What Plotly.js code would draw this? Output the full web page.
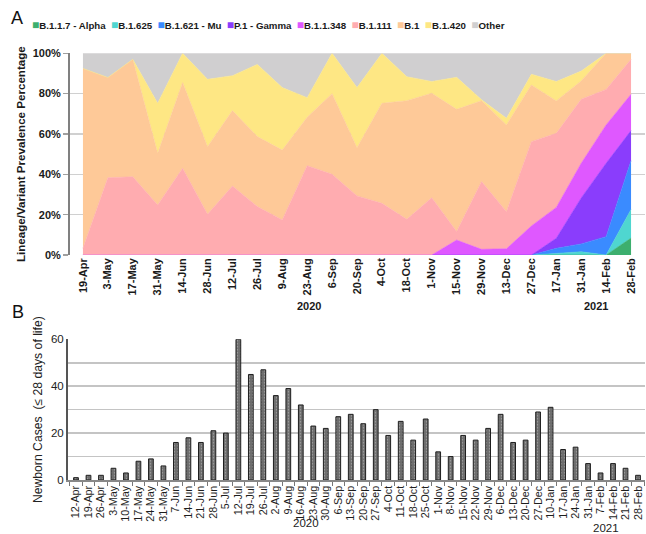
<!DOCTYPE html>
<html><head><meta charset="utf-8">
<script src="https://cdn.plot.ly/plotly-3.0.1.min.js"></script>
<style>html,body{margin:0;padding:0;background:#fff}#chart{width:646px;height:534px}</style>
</head><body><div id="chart"></div>
<script>
// ---- Panel A: lineage prevalence (% per biweekly period) ----
const periods = ['19-Apr','3-May','17-May','31-May','14-Jun','28-Jun','12-Jul','26-Jul','9-Aug','23-Aug','6-Sep','20-Sep','4-Oct','18-Oct','1-Nov','15-Nov','29-Nov','13-Dec','27-Dec','17-Jan','31-Jan','14-Feb','28-Feb'];
const alpha    = [0,0,0,0,0,0,0,0,0,0,0,0,0,0,0,0,0,0,0,0,0,0,8.4];
const b1625    = [0,0,0,0,0,0,0,0,0,0,0,0,0,0,0,0,0,0,0,0.8,1.6,0,14.2];
const mu       = [0,0,0,0,0,0,0,0,0,0,0,0,0,0,0,0,0,0,0,2.5,3.9,9.1,24.2];
const gamma    = [0,0,0,0,0,0,0,0,0,0,0,0,0,0,0,0,0,0,0,5.0,22.8,36.4,14.9];
const b11348   = [0,0,0,0,0,0,0,0,0,0,0,0,0,0,0,7.4,2.8,3.1,14.4,15.3,17.2,19.0,18.0];
const b1111    = [3.3,38.3,38.8,24.8,43.0,20.2,34.2,24.0,17.4,44.3,40.0,29.3,25.6,17.7,28.4,4.2,33.6,18.4,41.8,36.7,31.7,17.6,17.3];
const b1       = [89.2,49.7,58.2,25.6,42.5,33.5,37.4,34.7,34.6,24.0,40.0,23.9,49.6,58.8,51.8,60.6,40.1,43.0,28.1,16.1,9.1,17.9,3.0];
const b1420    = [0,0,0,24.8,14.5,33.4,17.3,35.8,31.0,9.7,20.0,29.8,24.8,11.9,5.8,15.9,0.5,3.3,5.3,9.6,4.9,0,0];
const other    = [7.5,12.0,3.0,24.8,0,12.9,11.1,5.5,17.0,22.0,0,17.0,0,11.6,14.0,11.9,23.0,32.2,10.4,14.0,8.8,0,0];
const seriesNames  = ['B.1.1.7 - Alpha','B.1.625','B.1.621 - Mu','P.1 - Gamma','B.1.1.348','B.1.111','B.1','B.1.420','Other'];
const seriesColors = ['#3daf6e','#4fd6d0','#3a8bff','#8a3dfc','#df58ff','#ffacb0','#fec998','#fee784','#d0cfd0'];
const seriesValues = [alpha,b1625,mu,gamma,b11348,b1111,b1,b1420,other];

// ---- Panel B: newborn cases per week ----
const weeks = ['12-Apr','19-Apr','26-Apr','3-May','10-May','17-May','24-May','31-May','7-Jun','14-Jun','21-Jun','28-Jun','5-Jul','12-Jul','19-Jul','26-Jul','2-Aug','9-Aug','16-Aug','23-Aug','30-Aug','6-Sep','13-Sep','20-Sep','27-Sep','4-Oct','11-Oct','18-Oct','25-Oct','1-Nov','8-Nov','15-Nov','22-Nov','29-Nov','6-Dec','13-Dec','20-Dec','27-Dec','10-Jan','17-Jan','24-Jan','31-Jan','7-Feb','14-Feb','21-Feb','28-Feb'];
const newborn = [1,2,2,5,3,8,9,6,16,18,16,21,20,60,45,47,36,39,32,23,22,27,28,24,30,19,25,17,26,12,10,19,17,22,28,16,17,29,31,13,14,7,3,7,5,2];

const FONT = 'Liberation Sans, Arial, sans-serif';
const W = 646, H = 534;
const px = v => v / W, py = v => 1 - v / H;

const traces = seriesValues.map((vals, i) => ({
  type: 'scatter', mode: 'lines', x: periods, y: vals,
  stackgroup: 'a', name: seriesNames[i],
  line: {width: 0.6, color: seriesColors[i], shape: 'linear'},
  fillcolor: seriesColors[i], showlegend: false, hoverinfo: 'skip',
  xaxis: 'x', yaxis: 'y'
}));

traces.push({
  type: 'bar', x: weeks, y: newborn, xaxis: 'x2', yaxis: 'y2',
  marker: {color: '#6d6d6d', line: {color: '#1e1e1e', width: 1},
           pattern: {shape: '.', fgcolor: '#a9a9a9', bgcolor: '#6d6d6d', size: 3, solidity: 0.15}},
  showlegend: false, hoverinfo: 'skip'
});

const legendText = seriesNames.map((n, i) =>
  '<span style="color:' + seriesColors[i] + ';font-size:12px">\u25A0</span>' + n).join('\u00a0\u00a0');

const layout = {
  width: W, height: H, margin: {l: 0, r: 0, t: 0, b: 0},
  paper_bgcolor: '#fff', plot_bgcolor: '#fff',
  font: {family: FONT, color: '#1a1a1a'},
  xaxis: {domain: [px(70), px(645)], anchor: 'y', type: 'category',
    range: [-0.52, 22.56], tickmode: 'linear', tick0: 0, dtick: 1, tickangle: -90,
    showgrid: false, showline: false, ticks: '',
    tickfont: {size: 11, family: FONT, weight: 'bold', color: '#1a1a1a'}, fixedrange: true},
  yaxis: {domain: [py(255), py(53.3)], anchor: 'x', range: [0, 100],
    tickmode: 'linear', tick0: 0, dtick: 20, ticksuffix: '%',
    showline: true, linecolor: '#808080', linewidth: 2,
    ticks: 'outside', ticklen: 5, tickcolor: '#a0a0a0', tickwidth: 1.5,
    showgrid: true, gridcolor: '#d0d0d0', gridwidth: 1.5, zeroline: false,
    tickfont: {size: 11, family: FONT, weight: 'bold', color: '#1a1a1a'},
    title: {text: 'Lineage/Variant Prevalence Percentage', standoff: 5,
            font: {size: 11.6, family: FONT, weight: 'bold', color: '#1a1a1a'}}},
  xaxis2: {domain: [px(68), px(645)], anchor: 'y2', type: 'category',
    range: [-0.64, 45.56], tickmode: 'linear', tick0: 0, dtick: 1, tickangle: -90, tickson: 'boundaries',
    ticks: 'outside', ticklen: 4, tickcolor: '#777', showline: true, linecolor: '#888', linewidth: 1.5,
    showgrid: false, tickfont: {size: 10.8, family: FONT, color: '#1e1e1e'}},
  yaxis2: {domain: [py(480), py(339.3)], anchor: 'x2', range: [0, 60],
    tickmode: 'linear', tick0: 0, dtick: 20,
    minor: {dtick: 10, showgrid: true, gridcolor: '#c4c4c4', gridwidth: 1.5},
    showline: true, linecolor: '#555', linewidth: 2, ticks: '', zeroline: false,
    showgrid: true, gridcolor: '#c4c4c4', gridwidth: 1.5,
    tickfont: {size: 11.5, family: FONT, color: '#222'},
    title: {text: 'Newborn Cases  (\u2264 28 days of life)', standoff: 6,
            font: {size: 12.2, family: FONT, color: '#222'}}},
  bargap: 0.62,
  annotations: [
    {xref: 'paper', yref: 'paper', x: px(9), y: py(18), xanchor: 'left', yanchor: 'middle',
     text: 'A', showarrow: false, font: {size: 18, family: FONT, color: '#111'}},
    {xref: 'paper', yref: 'paper', x: px(10), y: py(312), xanchor: 'left', yanchor: 'middle',
     text: 'B', showarrow: false, font: {size: 18, family: FONT, color: '#111'}},
    {xref: 'paper', yref: 'paper', x: px(30), y: py(25), xanchor: 'left', yanchor: 'middle',
     text: legendText, showarrow: false, font: {size: 9.7, family: FONT, weight: 'bold', color: '#1a1a1a'}},
    {xref: 'paper', yref: 'paper', x: px(309), y: py(306), xanchor: 'center', yanchor: 'middle',
     text: '2020', showarrow: false, font: {size: 11, family: FONT, weight: 'bold', color: '#1a1a1a'}},
    {xref: 'paper', yref: 'paper', x: px(596), y: py(306), xanchor: 'center', yanchor: 'middle',
     text: '2021', showarrow: false, font: {size: 11, family: FONT, weight: 'bold', color: '#1a1a1a'}},
    {xref: 'paper', yref: 'paper', x: px(306), y: py(523), xanchor: 'center', yanchor: 'middle',
     text: '2020', showarrow: false, font: {size: 11.5, family: FONT, color: '#222'}},
    {xref: 'paper', yref: 'paper', x: px(606), y: py(528), xanchor: 'center', yanchor: 'middle',
     text: '2021', showarrow: false, font: {size: 11.5, family: FONT, color: '#222'}}
  ]
};

Plotly.newPlot('chart', traces, layout, {staticPlot: true, displayModeBar: false});
</script>
</body></html>
